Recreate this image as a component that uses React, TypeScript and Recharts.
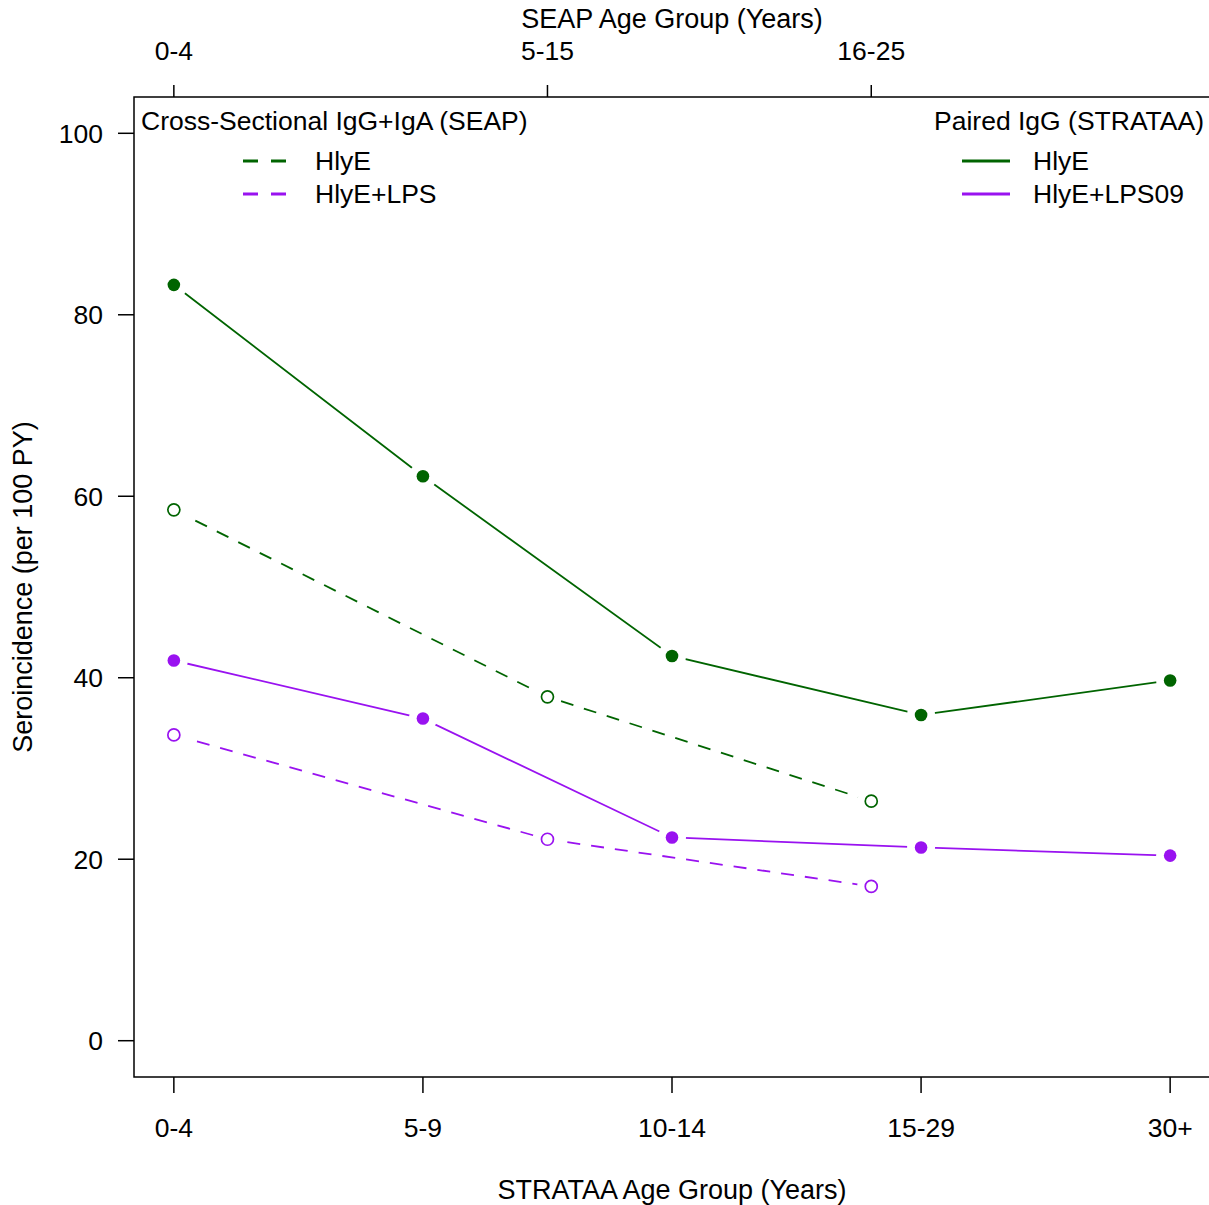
import React from 'react';
import { LineChart, Line, XAxis, YAxis, ReferenceArea } from 'recharts';

const stratCats = ['0-4', '5-9', '10-14', '15-29', '30+'];
const stratPos = [0, 1, 2, 3, 4];
const seapCats = ['0-4', '5-15', '16-25'];
const seapPos = [0, 1.5, 2.8];

const stratHlyE = [83.3, 62.2, 42.4, 35.9, 39.7];
const stratHlyELps = [41.9, 35.5, 22.4, 21.3, 20.4];
const seapHlyE = [58.5, 37.9, 26.4];
const seapHlyELps = [33.7, 22.2, 17.0];

const yTicks = [0, 20, 40, 60, 80, 100];

const GREEN = '#006400';
const PURPLE = '#9912F0';
const FONT = 'Liberation Sans, Arial, Helvetica, sans-serif';
const FS = 26.5;

const toRows = (pos: number[], vals: number[]) => pos.map((x, i) => ({ x, y: vals[i] }));

const dotFor = (color: string, open: boolean) => (p: any) => {
  const { cx, cy } = p;
  return (
    <g key={`${cx}-${cy}`}>
      <circle cx={cx} cy={cy} r={14} fill="#fff" stroke="none" />
      <circle cx={cx} cy={cy} r={open ? 6 : 6.3} fill={open ? '#fff' : color} stroke={color} strokeWidth={open ? 1.7 : 0} />
    </g>
  );
};

const txt = { fontFamily: FONT, fontSize: FS, fill: '#000' };

function LegendOverlay() {
  return (
    <svg width={1209} height={1205} style={{ position: 'absolute', left: 0, top: 0, pointerEvents: 'none' }}>
      <text x={141} y={130} {...txt}>Cross-Sectional IgG+IgA (SEAP)</text>
      <line x1={243} x2={286} y1={161} y2={161} stroke={GREEN} strokeWidth={2.8} strokeDasharray="15 13" />
      <text x={315} y={170} {...txt}>HlyE</text>
      <line x1={243} x2={286} y1={194} y2={194} stroke={PURPLE} strokeWidth={2.8} strokeDasharray="15 13" />
      <text x={315} y={203} {...txt}>HlyE+LPS</text>

      <text x={1204} y={130} textAnchor="end" {...txt}>Paired IgG (STRATAA)</text>
      <line x1={962} x2={1010} y1={161} y2={161} stroke={GREEN} strokeWidth={2.8} />
      <text x={1033} y={170} {...txt}>HlyE</text>
      <line x1={962} x2={1010} y1={194} y2={194} stroke={PURPLE} strokeWidth={2.8} />
      <text x={1033} y={203} {...txt}>HlyE+LPS09</text>
    </svg>
  );
}

export default function App() {
  const tickStyle = { fontFamily: FONT, fontSize: FS, fill: '#000' };
  const tickLine = { stroke: '#000', strokeWidth: 1.5 };
  const labelStyle = { fontFamily: FONT, fontSize: 27, fill: '#000' };
  return (
    <div style={{ position: 'relative', width: 1209, height: 1205, overflow: 'hidden', background: '#fff' }}>
      <style>{'body{margin:0}'}</style>
      <div style={{ position: 'absolute', left: 0, top: 0 }}>
        <LineChart width={1211} height={1205} margin={{ top: 0, right: 1, bottom: 0, left: 0 }}>
          <XAxis
            xAxisId="bottom"
            type="number"
            dataKey="x"
            domain={[-0.16, 4.16]}
            allowDataOverflow
            ticks={stratPos}
            tickFormatter={(v: number) => stratCats[stratPos.indexOf(v)] ?? ''}
            height={128}
            axisLine={false}
            tickLine={tickLine}
            tickSize={16}
            tickMargin={25}
            tick={tickStyle}
            interval={0}
            label={{ value: 'STRATAA Age Group (Years)', position: 'insideBottom', offset: 6, style: labelStyle }}
          />
          <XAxis
            xAxisId="top"
            orientation="top"
            type="number"
            dataKey="x"
            domain={[-0.16, 4.16]}
            allowDataOverflow
            ticks={seapPos}
            tickFormatter={(v: number) => seapCats[seapPos.indexOf(v)] ?? ''}
            height={97}
            axisLine={false}
            tickLine={tickLine}
            tickSize={12}
            tickMargin={25}
            tick={tickStyle}
            interval={0}
            label={{ value: 'SEAP Age Group (Years)', position: 'insideTop', offset: 9, style: labelStyle }}
          />
          <YAxis
            type="number"
            domain={[-4, 104]}
            allowDataOverflow
            ticks={yTicks}
            width={134}
            axisLine={false}
            tickLine={tickLine}
            tickSize={16}
            tickMargin={15}
            tick={tickStyle}
            interval={0}
            label={{ value: 'Seroincidence (per 100 PY)', angle: -90, position: 'insideLeft', offset: 22, style: { ...labelStyle, textAnchor: 'middle' } }}
          />
          <ReferenceArea xAxisId="bottom" x1={-0.16} x2={4.16} y1={-4} y2={104} fill="none" fillOpacity={0} stroke="#000" strokeWidth={1.5} ifOverflow="visible" />
          <Line xAxisId="bottom" data={toRows(seapPos, seapHlyE)} dataKey="y" stroke={GREEN} strokeWidth={1.8} strokeDasharray="13 11" dot={dotFor(GREEN, true)} isAnimationActive={false} />
          <Line xAxisId="bottom" data={toRows(seapPos, seapHlyELps)} dataKey="y" stroke={PURPLE} strokeWidth={1.8} strokeDasharray="13 11" dot={dotFor(PURPLE, true)} isAnimationActive={false} />
          <Line xAxisId="bottom" data={toRows(stratPos, stratHlyE)} dataKey="y" stroke={GREEN} strokeWidth={1.8} dot={dotFor(GREEN, false)} isAnimationActive={false} />
          <Line xAxisId="bottom" data={toRows(stratPos, stratHlyELps)} dataKey="y" stroke={PURPLE} strokeWidth={1.8} dot={dotFor(PURPLE, false)} isAnimationActive={false} />
        </LineChart>
      </div>
      <LegendOverlay />
    </div>
  );
}
